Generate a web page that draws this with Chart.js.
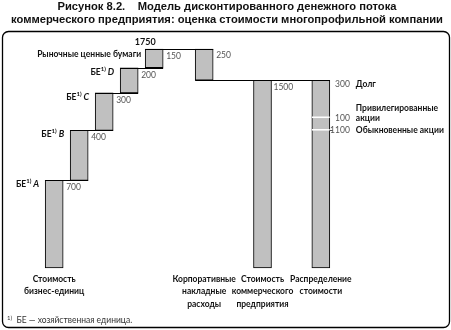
<!DOCTYPE html>
<html>
<head>
<meta charset="utf-8">
<script src="https://cdn.jsdelivr.net/npm/chart.js@4.4.1/dist/chart.umd.min.js"></script>
<style>
  body { margin: 0; background: #fff; }
  #wrap { width: 451px; height: 330px; position: relative; }
</style>
</head>
<body>
<div id="wrap"><canvas id="dcfChart"></canvas></div>
<script>
// business units, stacked upward
const unitLetters = ['A', 'B', 'C', 'D'];
const unitValues = [700, 400, 300, 200];
const securitiesName = 'Рыночные ценные бумаги';
const securitiesValue = 150;
// corporate overhead is subtracted from the total
const overheadValue = 250;
// how the enterprise value splits up
const distNames = [['Долг'], ['Привилегированные', 'акции'], ['Обыкновенные акции']];
const distValues = [300, 100, 1100];
const axisTitles = {
    A: ['Стоимость', 'бизнес-единиц'],
    CO: ['Корпоративные', 'накладные', 'расходы'],
    EV: ['Стоимость', 'коммерческого', 'предприятия'],
    DIST: ['Распределение', 'стоимости']
};

const face = 'Lato, "DejaVu Sans Condensed", sans-serif';
const font = (style, size, fam) => style + ' ' + size + 'px ' + (fam || face);

// columns, with empty spacer columns ahead of each bar
const columnKeys = ['A', 'B', 'C', 'D', 'MS', 'CO', 'EV', 'DIST'];
const gapsBefore = [0, 2, 2, 2, 2, 5, 6, 6];
const labels = [];
columnKeys.forEach(function(k, i) {
    for (let g = 0; g < gapsBefore[i]; g++) labels.push('');
    labels.push(k);
});

// floating ranges for the waterfall
const steps = unitValues.concat([securitiesValue]);
let run = 0;
const stepRanges = steps.map(function(v) { const r = [run, run + v]; run += v; return r; });
const total = run;
const enterprise = total - overheadValue;
const distTotal = distValues.reduce((a, b) => a + b, 0);

const ranges = { CO: [enterprise, total], EV: [0, enterprise], DIST: [0, distTotal] };
['A', 'B', 'C', 'D', 'MS'].forEach((k, i) => { ranges[k] = stepRanges[i]; });

let distTop = distTotal;
const distRanges = distValues.map(function(v) { const r = [distTop - v, distTop]; distTop -= v; return r; });

const grey = '#c0c0c0';

const datasets = [{
    label: 'main',
    data: labels.map(k => ranges[k] || null),
    backgroundColor: grey,
    borderColor: '#000',
    borderWidth: 1,
    borderSkipped: false,
    barThickness: 18,
    grouped: false,
    clip: false,
    order: 1
}];
// white separators inside the distribution bar
distRanges.forEach(function(r, i) {
    datasets.push({
        label: 'dist' + i,
        data: labels.map(k => k === 'DIST' ? r : null),
        backgroundColor: 'rgba(0,0,0,0)',
        borderColor: '#fff',
        borderWidth: { top: 0, left: 0, right: 0, bottom: i < distRanges.length - 1 ? 1 : 0 },
        borderSkipped: false,
        barThickness: 18,
        grouped: false,
        clip: false,
        order: 0
    });
});

function supText(ctx, x, y, parts, align) {
    // parts: [text, font, dy]; drawn left to right, optionally right-aligned at x
    let w = 0;
    parts.forEach(p => { ctx.font = p[1]; w += ctx.measureText(p[0]).width; });
    let cx = align === 'right' ? x - w : x;
    parts.forEach(p => {
        ctx.font = p[1];
        ctx.textAlign = 'left';
        ctx.fillText(p[0], cx, y + (p[2] || 0));
        cx += ctx.measureText(p[0]).width;
    });
}

const decorations = {
    id: 'decorations',
    beforeDraw(chart) {
        const ctx = chart.ctx;
        ctx.save();
        ctx.fillStyle = '#fff';
        ctx.fillRect(0, 0, chart.width, chart.height);
        // heading
        ctx.fillStyle = '#111';
        ctx.textAlign = 'center';
        ctx.textBaseline = 'middle';
        ctx.font = font('bold', 11.2, '"Liberation Sans", sans-serif');
        ctx.fillText('Рисунок 8.2.    Модель дисконтированного денежного потока', 227, 7);
        ctx.fillText('коммерческого предприятия: оценка стоимости многопрофильной компании', 227, 19.5);
        // frame
        ctx.strokeStyle = '#000';
        ctx.lineWidth = 1.3;
        ctx.beginPath();
        ctx.roundRect(2.5, 31.5, 447, 296, 6);
        ctx.stroke();
        ctx.restore();
    },
    afterDatasetsDraw(chart) {
        const ctx = chart.ctx;
        const ys = chart.scales.y;
        const meta = chart.getDatasetMeta(0);
        const el = k => meta.data[labels.indexOf(k)];
        const left = k => el(k).x - el(k).width / 2;
        const right = k => el(k).x + el(k).width / 2;
        const py = v => Math.round(ys.getPixelForValue(v)) + 0.5;

        ctx.save();
        ctx.strokeStyle = '#000';
        ctx.lineWidth = 1;
        // step connectors between neighbouring bars
        const levels = stepRanges.map(r => r[1]).concat([enterprise, enterprise]);
        for (let j = 0; j < columnKeys.length - 1; j++) {
            const y = py(levels[j]);
            ctx.beginPath();
            ctx.moveTo(left(columnKeys[j]), y);
            ctx.lineTo(right(columnKeys[j + 1]), y);
            ctx.stroke();
        }

        ctx.textBaseline = 'middle';
        ctx.fillStyle = '#555';
        ctx.font = font('', 8.5);
        ctx.textAlign = 'left';
        // value labels beside the bars
        ['A', 'B', 'C', 'D', 'MS'].forEach(function(k, i) {
            ctx.fillText(String(steps[i]), right(k) + 3, py(stepRanges[i][1]) + 6.5);
        });
        ctx.fillText(String(overheadValue), right('CO') + 3, py(total) + 5.5);
        ctx.fillText(String(enterprise), right('EV') + 2, py(enterprise) + 6.5);

        ctx.fillStyle = '#111';
        ctx.font = font('bold', 9);
        ctx.textAlign = 'center';
        ctx.fillText(String(total), left('MS'), py(total) - 7.5);

        // unit names left of their bars
        unitLetters.forEach(function(l, i) {
            const k = columnKeys[i];
            supText(ctx, left(k) - 6, py(stepRanges[i][1]) + 3.5, [
                ['БЕ', font('bold', 8.5)],
                ['1)', font('bold', 6), -3],
                [' ' + l, font('italic bold', 9)]
            ], 'right');
        });
        ctx.font = font('bold', 8.5);
        ctx.textAlign = 'right';
        ctx.fillText(securitiesName, left('MS') - 4, py(total) + 5);

        // distribution: values and names to the right
        const dx = right('DIST');
        distValues.forEach(function(v, i) {
            const y = i === 0 ? py(distRanges[0][1]) + 4 : py(distRanges[i][1]);
            ctx.fillStyle = '#555';
            ctx.font = font('', 8.5);
            ctx.textAlign = 'right';
            ctx.fillText(String(v), dx + 20, y);
            ctx.fillStyle = '#111';
            ctx.font = font('bold', 8.5);
            ctx.textAlign = 'left';
            const lines = distNames[i];
            lines.forEach(function(t, n) {
                ctx.fillText(t, dx + 26, y - (lines.length - 1 - n) * 10);
            });
        });
        ctx.strokeStyle = '#555';
        ctx.beginPath();
        ctx.moveTo(dx, py(distRanges[2][1]));
        ctx.lineTo(dx + 3, py(distRanges[2][1]));
        ctx.stroke();

        // footnote
        ctx.fillStyle = '#333';
        supText(ctx, 7, 320, [
            ['1)', font('', 6), -2],
            ['  БЕ — хозяйственная единица.', font('', 8.5)]
        ]);
        ctx.restore();
    }
};

new Chart(document.getElementById('dcfChart'), {
    type: 'bar',
    data: { labels: labels, datasets: datasets },
    options: {
        responsive: true,
        maintainAspectRatio: false,
        animation: false,
        layout: { padding: { top: 49, left: 50, right: 126, bottom: 0 } },
        plugins: { legend: { display: false }, tooltip: { enabled: false } },
        scales: {
            x: {
                grid: { display: false, drawTicks: false },
                border: { display: false },
                afterFit(scale) { scale.height = 62; },
                ticks: {
                    autoSkip: false,
                    maxRotation: 0,
                    minRotation: 0,
                    padding: 5,
                    color: '#111',
                    font: { family: face, size: 8.5, weight: 'bold', lineHeight: 1.45 },
                    callback: (v, i) => axisTitles[labels[i]] || ''
                }
            },
            y: { display: false, min: 0, max: 1750 }
        }
    },
    plugins: [decorations]
});
</script>
</body>
</html>
